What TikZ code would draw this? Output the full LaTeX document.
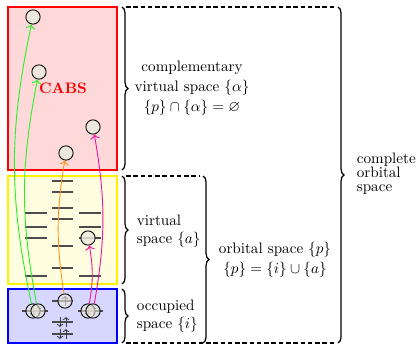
\documentclass[tikz,border=0pt]{standalone}
\usepackage{amsmath, amssymb}
\usetikzlibrary{arrows.meta, positioning, decorations.pathreplacing}
\definecolor{orbfill}{RGB}{236, 233, 220}
\definecolor{exgreen}{RGB}{40, 240, 40}
\definecolor{exorange}{RGB}{255, 150, 30}
\definecolor{exmagenta}{RGB}{240, 20, 160}

\begin{document}
\begin{tikzpicture}[
  x=0.66pt, y=-0.66pt,
  spacebox/.style={line width=1pt},
  level/.style={draw=black!70, line width=0.8pt},
  spin/.style={draw=black!75, line width=0.6pt, -{To[length=2pt]}},
  orb/.style={circle, draw, line width=0.6pt, fill=orbfill, minimum size=9.4pt, inner sep=0pt},
  hole/.style={orb, fill opacity=0.6},
  excite/.style={line width=0.6pt, -{To[length=3pt]}},
  spacebrace/.style={decorate, decoration={brace, amplitude=4pt}, thick},
  bracelabel/.style={align=left, anchor=west, inner sep=3pt},
  guide/.style={thick, dash pattern=on 3pt off 1.8pt}
]
  \useasboundingbox (0,0) rectangle (418,344);

  \draw[spacebox, draw=red, fill=red!15] (8,7) rectangle (117,170);
  \draw[spacebox, draw=yellow, fill=yellow!12] (8,176) rectangle (117,284);
  \draw[spacebox, draw=blue, fill=blue!16] (8,289) rectangle (117,343);
  \node[font=\bfseries, text=red] (cabs) at (63,88) {CABS};

  \foreach \y in {213,227,238,276} {
    \draw[level] (25,\y) -- (47,\y);
    \draw[level] (79,\y) -- (101,\y);
  }
  \foreach \y in {181,192,208,219,246,268}
    \draw[level] (52,\y) -- (73,\y);

  \draw[level] (22,311) -- (48,311);
  \draw[level] (78,311) -- (103,311);
  \foreach \y in {301,322,334}
    \draw[level] (52,\y) -- (73,\y);
  \foreach \y in {322,334} {
    \draw[spin] (60,{\y-5}) -- (60,{\y+5});
    \draw[spin] (66,{\y+5}) -- (66,{\y-5});
  }
  \draw[spin] (33,306) -- (33,316);
  \draw[spin] (38,316) -- (38,306);
  \draw[spin] (88,306) -- (88,316);
  \draw[spin] (93,316) -- (93,306);
  \draw[spin] (65,306) -- (65,296);

  \node[orb] (ca1) at (33,17) {};
  \node[orb] (ca2) at (39,72) {};
  \node[orb] (ca3) at (93,127) {};
  \node[orb] (ca4) at (66,153) {};
  \node[orb, fill opacity=0.85] (va1) at (88,238) {};

  \node[hole] (oc1) at (33,311) {};
  \node[hole] (oc2) at (38,311) {};
  \node[hole] (oc3) at (65,301) {};
  \node[hole] (oc4) at (88,311) {};
  \node[hole] (oc5) at (93,311) {};

  \draw[excite, exgreen] (oc1) to[bend left=12] (ca1);
  \draw[excite, exgreen] (oc2) to[bend left=11] (ca2);
  \draw[excite, exorange] (oc3) to[bend left=9] (ca4);
  \draw[excite, exmagenta] (oc4) to[bend right=10] (va1);
  \draw[excite, exmagenta] (oc5) to[bend right=10] (ca3);

  \draw[spacebrace] (122,7) -- (122,170);
  \draw[spacebrace] (122,176) -- (122,284);
  \draw[spacebrace] (122,289) -- (122,343);
  \draw[spacebrace] (203,176) -- (203,343);
  \draw[spacebrace] (338,7) -- (338,343);

  \draw[guide] (126,7) -- (335,7);
  \draw[guide] (126,176) -- (200,176);
  \draw[guide] (126,343) -- (335,343);

  \node[align=center] (cvlbl) at (192,88) {complementary\\[1.2pt] virtual space $\{\alpha\}$\\[1.2pt] $\{p\}\cap\{\alpha\}=\varnothing$};
  \node[bracelabel] (vlbl) at (132,231) {virtual\\space $\{a\}$};
  \node[bracelabel] (olbl) at (132,316) {occupied\\space $\{i\}$};
  \node[align=center] (plbl) at (275,260) {orbital space $\{p\}$\\[1.2pt] $\{p\}=\{i\}\cup\{a\}$};
  \node[bracelabel] (clbl) at (352,174) {complete\\[-2.8pt]orbital\\[-2.8pt]space};
\end{tikzpicture}
\end{document}
